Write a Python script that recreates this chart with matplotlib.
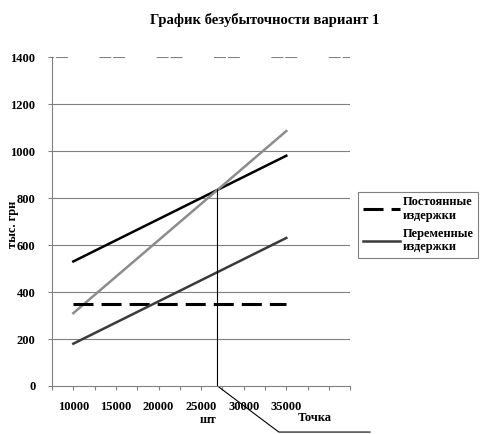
import numpy as np
import matplotlib
matplotlib.use("Agg")
import matplotlib.pyplot as plt

plt.rcParams["font.family"] = ["Liberation Serif", "DejaVu Serif"]
plt.rcParams["font.weight"] = "bold"
plt.rcParams["lines.scale_dashes"] = False

# data (тыс. грн)
volume   = [10000, 15000, 20000, 25000, 30000, 35000]
fixed    = [350, 350, 350, 350, 350, 350]
variable = [180, 270, 360, 450, 540, 630]
total    = [530, 620, 710, 800, 890, 980]
revenue  = [310, 465, 620, 775, 930, 1085]

x_ticks  = np.arange(7500, 42501, 2500)
x_labels = ["10000", "15000", "20000", "25000", "30000", "35000"]
y_ticks  = [0, 200, 400, 600, 800, 1000, 1200, 1400]

fig = plt.figure(figsize=(4.88, 4.34), dpi=100)
ax = fig.add_axes([0.1066, 0.1106, 0.611, 0.758])

ax.plot(volume, total, color="black", linewidth=1.8)
ax.plot(volume, revenue, color="#8c8c8c", linewidth=1.8)
ax.plot(volume, fixed, color="black", linewidth=2.2, dashes=(14.4, 5.8),
        label="Постоянные\nиздержки")
ax.plot(volume, variable, color="#3a3a3a", linewidth=1.8,
        label="Переменные\nиздержки")

ax.set_xlim(7500, 42500)
ax.set_ylim(0, 1400)
ax.set_xticks(x_ticks)
ax.set_xticklabels([str(v) if str(v) in x_labels else "" for v in x_ticks],
                   fontsize=9, fontweight="bold")
ax.set_yticks(y_ticks)
ax.set_yticklabels([str(v) for v in y_ticks], fontsize=9, fontweight="bold")
ax.tick_params(axis="both", direction="out", length=3, width=0.8, color="#808080", pad=8)
ax.tick_params(axis="y", pad=9)

ax.yaxis.grid(True, color="#808080", linewidth=0.8)
gl = ax.get_ygridlines()
gl[-1].set_linestyle((7.6, (8.6, 1.4, 8.6, 22.7)))
gl[0].set_visible(False)
ax.set_axisbelow(True)

for s in ["top", "right"]:
    ax.spines[s].set_visible(False)
for s in ["left", "bottom"]:
    ax.spines[s].set_color("#808080")
    ax.spines[s].set_linewidth(0.8)

ax.set_xlabel("шт", fontsize=9, fontweight="bold")
ax.xaxis.set_label_coords(0.523, -0.085)
ax.set_ylabel("тыс. грн", fontsize=9, fontweight="bold")
ax.yaxis.set_label_coords(-0.11, 0.49)

# break-even point and leader line
fv = fixed[0]
slope_r = revenue[-1] / volume[-1]
slope_v = variable[-1] / volume[-1]
be_x = fv / (slope_r - slope_v)
be_y = slope_r * be_x
ax.plot([be_x, be_x, be_x + 7200, be_x + 17900], [be_y, 0, -196, -196],
        color="black", linewidth=0.8, clip_on=False)
fig.text(0.645, 0.037, "Точка", fontsize=9, fontweight="bold", ha="center", va="center")

fig.text(0.543, 0.954, "График безубыточности вариант 1", fontsize=10.5,
         fontweight="bold", ha="center", va="center")

leg = fig.legend(loc="upper left", bbox_to_anchor=(0.734, 0.558), fontsize=9,
                 frameon=True, fancybox=False, handlelength=3.0, borderaxespad=0,
                 borderpad=0.35, labelspacing=0.45, handletextpad=0.2)
leg.get_frame().set_edgecolor("#606060")
leg.get_frame().set_linewidth(0.8)

fig.savefig("out.png", dpi=100)
